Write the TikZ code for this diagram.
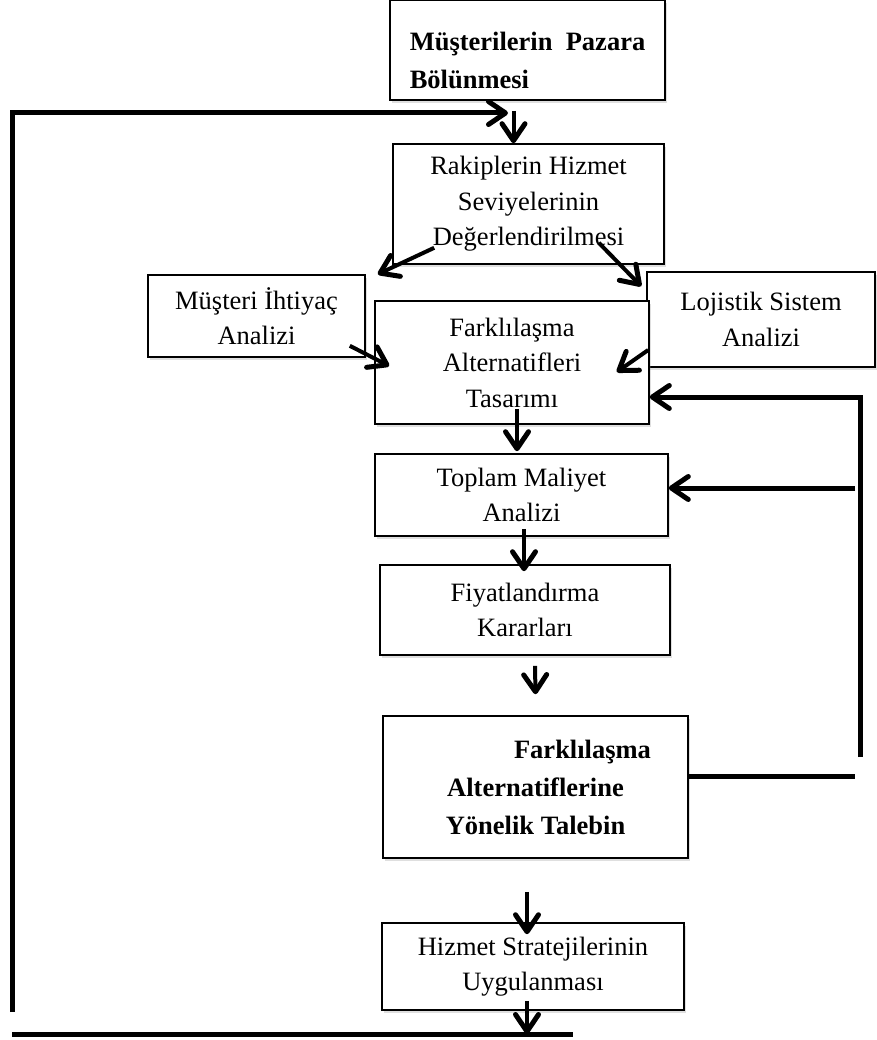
\documentclass[tikz,border=0pt]{standalone}
\usepackage{fontspec}
\setmainfont{Liberation Serif}
\usetikzlibrary{arrows.meta, shadows}

\begin{document}
\begin{tikzpicture}[
  x=1pt, y=-1pt,
  font=\fontsize{26.5pt}{35.5pt}\selectfont,
  box/.style={draw, line width=1.6pt, rectangle, fill=white, align=center, inner sep=4pt,
    drop shadow={shadow xshift=2pt, shadow yshift=-3pt, opacity=0.25}},
  boldbox/.style={box, font=\fontsize{26.5pt}{38pt}\selectfont\bfseries},
  >={Straight Barb[length=17pt, width=23pt, round, line width=5pt 0]},
  arr/.style={->, line width=4pt},
  loopline/.style={line width=5pt}
]
\useasboundingbox (0,0) rectangle (876,1040);

\node[boldbox, align=left, minimum width=275pt, minimum height=100pt] (pazar) at (527.5,50) {\rule{0pt}{40pt}Müşterilerin\ \ Pazara\\Bölünmesi};
\node[box, minimum width=271pt, minimum height=120pt] (rakip) at (528.5,204) {Rakiplerin Hizmet\\Seviyelerinin\\Değerlendirilmesi};
\node[box, minimum width=217pt, minimum height=82pt] (ihtiyac) at (256.5,316) {Müşteri İhtiyaç\\Analizi};
\node[box, minimum width=228pt, minimum height=95pt] (lojistik) at (761,319.5) {Lojistik Sistem\\Analizi};
\node[box, minimum width=274pt, minimum height=123pt] (tasarim) at (512,362.5) {Farklılaşma\\Alternatifleri\\Tasarımı};
\node[box, minimum width=293pt, minimum height=82pt] (toplam) at (521.5,495) {Toplam Maliyet\\Analizi};
\node[box, minimum width=290pt, minimum height=90pt] (fiyat) at (525,610) {Fiyatlandırma\\Kararları};
\node[boldbox, minimum width=305pt, minimum height=142pt] (talep) at (535.5,787) {\hspace*{94pt}Farklılaşma\\Alternatiflerine\\Yönelik Talebin};
\node[box, minimum width=302pt, minimum height=87pt] (hizmet) at (533,966.5) {Hizmet Stratejilerinin\\Uygulanması};

% geri besleme uclari
\coordinate (fbLbot) at (12,1012);
\coordinate (fbLin) at (508,113);
\coordinate (botL) at (12,1034);
\coordinate (botR) at (573,1034);
\coordinate (fbRend) at (855,776);
\coordinate (fbRbot) at (860,757);
\coordinate (fbRmid) at (855,488);

\draw[arr] ([xshift=-14pt,yshift=-10pt]pazar.south) -- ([xshift=-15pt]rakip.north);
\draw[arr] ([xshift=42pt,yshift=17pt]rakip.south west) -- ([xshift=12pt]ihtiyac.north east);
\draw[arr] ([xshift=-66pt,yshift=22pt]rakip.south east) -- ([xshift=-5pt,yshift=-15pt]lojistik.north west);
\draw[arr] ([xshift=-16pt,yshift=12pt]ihtiyac.south east) -- ([xshift=15pt,yshift=-3.5pt]tasarim.west);
\draw[arr] ([xshift=2pt,yshift=-30.5pt]lojistik.west) -- ([xshift=-33pt,yshift=-9.5pt]tasarim.east);
\draw[arr] ([xshift=5pt,yshift=16pt]tasarim.south) -- ([xshift=-4.5pt,yshift=2pt]toplam.north);
\draw[arr] ([xshift=2.5pt,yshift=8pt]toplam.south) -- ([xshift=-1pt,yshift=-7pt]fiyat.north);
\draw[arr] ([xshift=10pt,yshift=-10pt]fiyat.south) -- ([yshift=21pt]talep.north);
\draw[arr] ([xshift=-8.5pt,yshift=-33pt]talep.south) -- ([xshift=-6pt,yshift=-12pt]hizmet.north);
\draw[arr] ([xshift=-6pt,yshift=10pt]hizmet.south) -- ([xshift=-6pt]hizmet.south |- botR);

\draw[loopline, ->] (fbLbot) |- (fbLin);
\draw[loopline] (botL) -- (botR);
\draw[loopline] ([yshift=11pt]talep.east) -- (fbRend);
\draw[loopline, ->] (fbRbot) |- ([yshift=-34.5pt]tasarim.east);
\draw[loopline, ->] (fbRmid) -- ([yshift=7pt]toplam.east);
\end{tikzpicture}
\end{document}
